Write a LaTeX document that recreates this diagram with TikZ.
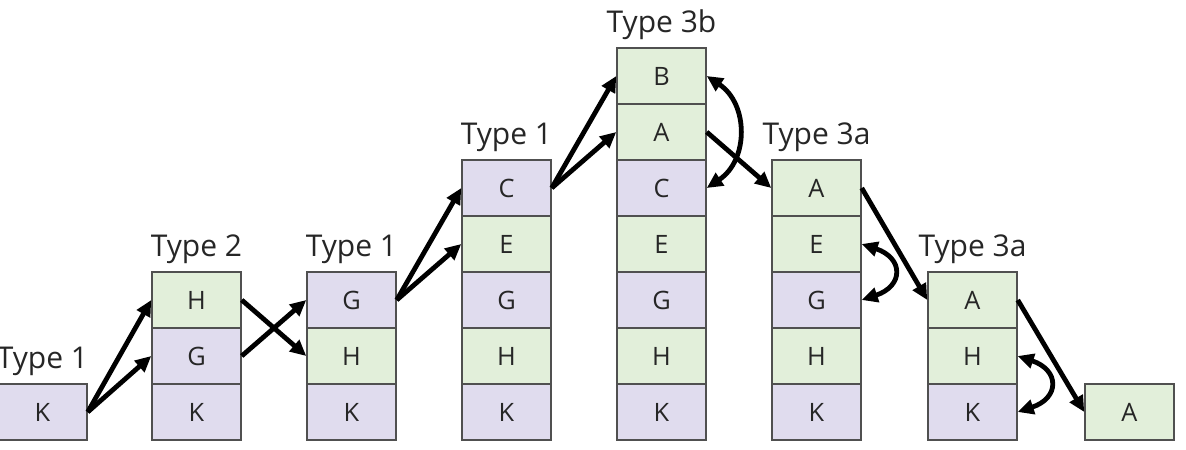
\documentclass[tikz,border=0pt]{standalone}
\usepackage{fontspec}
\setmainfont{Open Sans}
\usetikzlibrary{arrows.meta,calc}
\definecolor{cellgreen}{HTML}{E2EFDA}
\definecolor{cellpurple}{HTML}{E0DCEE}
\definecolor{cellborder}{HTML}{505050}
\definecolor{inktext}{HTML}{262626}
\newcommand\cellfont{\fontsize{19pt}{20pt}\selectfont}
\newcommand\labelfont{\fontsize{22.5pt}{24pt}\selectfont}
\begin{document}
\begin{tikzpicture}[x=0.75pt,y=-0.75pt,
  cell/.style={draw=cellborder,line width=1.1pt,minimum width=66.75pt,minimum height=42pt,
    inner sep=0pt,font=\cellfont,text=inktext},
  gcell/.style={cell,fill=cellgreen},
  pcell/.style={cell,fill=cellpurple},
  typelabel/.style={anchor=base,font=\labelfont,text=inktext},
  tip/.tip={Triangle[length=12pt,width=11pt]},
  link/.style={line width=3.6pt,-tip},
  swap/.style={line width=3.6pt,tip-tip}]
\useasboundingbox (0,0) rectangle (1186,450);
\clip (0,0) rectangle (1186,450);

% column 0
\node[pcell] (c0r0) at (42.5,412) {K};
\node[typelabel] (t0) at (42.5,368) {Type 1};

% column 1
\node[pcell] (c1r0) at (196.5,412) {K};
\node[pcell] (c1r1) at (196.5,356) {G};
\node[gcell] (c1r2) at (196.5,300) {H};
\node[typelabel] (t1) at (196.5,256) {Type 2};

% column 2
\node[pcell] (c2r0) at (351.5,412) {K};
\node[gcell] (c2r1) at (351.5,356) {H};
\node[pcell] (c2r2) at (351.5,300) {G};
\node[typelabel] (t2) at (351.5,256) {Type 1};

% column 3
\node[pcell] (c3r0) at (506.5,412) {K};
\node[gcell] (c3r1) at (506.5,356) {H};
\node[pcell] (c3r2) at (506.5,300) {G};
\node[gcell] (c3r3) at (506.5,244) {E};
\node[pcell] (c3r4) at (506.5,188) {C};
\node[typelabel] (t3) at (506.5,144) {Type 1};

% column 4
\node[pcell] (c4r0) at (661.5,412) {K};
\node[gcell] (c4r1) at (661.5,356) {H};
\node[pcell] (c4r2) at (661.5,300) {G};
\node[gcell] (c4r3) at (661.5,244) {E};
\node[pcell] (c4r4) at (661.5,188) {C};
\node[gcell] (c4r5) at (661.5,132) {A};
\node[gcell] (c4r6) at (661.5,76) {B};
\node[typelabel] (t4) at (661.5,32) {Type 3b};

% column 5
\node[pcell] (c5r0) at (816.5,412) {K};
\node[gcell] (c5r1) at (816.5,356) {H};
\node[pcell] (c5r2) at (816.5,300) {G};
\node[gcell] (c5r3) at (816.5,244) {E};
\node[gcell] (c5r4) at (816.5,188) {A};
\node[typelabel] (t5) at (816.5,144) {Type 3a};

% column 6
\node[pcell] (c6r0) at (972.5,412) {K};
\node[gcell] (c6r1) at (972.5,356) {H};
\node[gcell] (c6r2) at (972.5,300) {A};
\node[typelabel] (t6) at (972.5,256) {Type 3a};

% column 7
\node[gcell] (c7r0) at (1129.5,412) {A};

% transitions
\draw[link] (c0r0.east) -- (c1r2.west);
\draw[link] (c0r0.east) -- (c1r1.west);
\draw[link] (c1r2.east) -- (c2r1.west);
\draw[link] (c1r1.east) -- (c2r2.west);
\draw[link] (c2r2.east) -- (c3r4.west);
\draw[link] (c2r2.east) -- (c3r3.west);
\draw[link] (c3r4.east) -- (c4r6.west);
\draw[link] (c3r4.east) -- (c4r5.west);
\draw[link] (c4r5.east) -- (c5r4.west);
\draw[link] (c5r4.east) -- (c6r2.west);
\draw[link] (c6r2.east) -- (c7r0.west);

% swaps
\draw[swap] (c4r6.east) .. controls ($(c4r6.east)+(42,28)$) and ($(c4r4.east)+(42,-28)$) .. (c4r4.east);
\draw[swap] (c5r3.east) .. controls ($(c5r3.east)+(42,14)$) and ($(c5r2.east)+(42,-14)$) .. (c5r2.east);
\draw[swap] (c6r1.east) .. controls ($(c6r1.east)+(42,14)$) and ($(c6r0.east)+(42,-14)$) .. (c6r0.east);
\end{tikzpicture}
\end{document}
